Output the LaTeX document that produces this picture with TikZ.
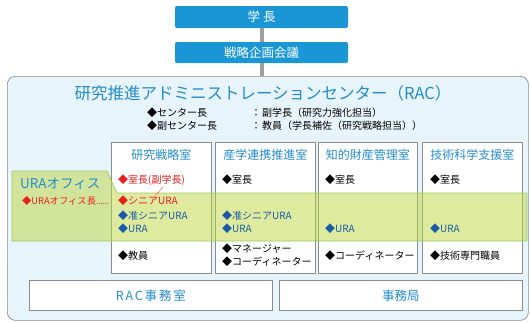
\documentclass[tikz,border=0pt]{standalone}
\usepackage{fontspec}
\setmainfont{Noto Sans CJK JP}
\definecolor{topblue}{RGB}{27,150,212}
\definecolor{headblue}{RGB}{36,140,204}
\definecolor{urablue}{RGB}{25,90,168}
\definecolor{racbg}{RGB}{232,244,251}
\definecolor{redtxt}{RGB}{232,30,30}
\definecolor{greenfill}{RGB}{190,214,60}
\definecolor{greenline}{RGB}{140,195,80}
\definecolor{boxline}{RGB}{140,140,140}
\tikzset{
  topbox/.style={fill=topblue, rounded corners=2pt, minimum width=173pt, inner sep=0pt, text=white, font=\fontsize{12.5}{14}\selectfont},
  deptbox/.style={draw=boxline, fill=white, line width=0.7pt, minimum width=100pt, minimum height=131pt, anchor=north west, inner sep=0pt},
  head/.style={text=headblue, font=\fontsize{12}{14}\selectfont, inner sep=0pt},
  item/.style={anchor=west, font=\fontsize{10}{12}\selectfont, inner sep=0pt},
  reditem/.style={item, text=redtxt},
  blueitem/.style={item, text=urablue},
  botbox/.style={draw=boxline, fill=white, line width=0.7pt, minimum height=30pt, anchor=north west, inner sep=0pt, text=headblue, font=\fontsize{12.5}{14}\selectfont},
  conn/.style={draw=gray!75, line width=4pt}
}
\begin{document}
\begin{tikzpicture}[x=1pt,y=-1pt]
\useasboundingbox (0,0) rectangle (530,322);
% top boxes
\node[topbox, minimum height=22pt] (gakucho) at (261.5,17) {学\hspace{3pt}長};
\node[topbox, minimum height=21pt] (senryaku) at (261.5,52.5) {戦略企画会議};
% RAC box
\node[draw=boxline, fill=racbg, rounded corners=8pt, line width=0.7pt, minimum width=521pt, minimum height=244pt, anchor=north west, inner sep=0pt] (rac) at (7,76) {};
\draw[conn] (gakucho.south) -- (senryaku.north);
\draw[conn] (senryaku.south) -- (senryaku.south |- rac.north);
\node[text=headblue, font=\fontsize{16.5}{19}\selectfont, inner sep=0pt] (title) at (263,93) {研究推進アドミニストレーションセンター（RAC）};
\node[item] (l1a) at (147,113) {◆センター長};
\node[item] (l1b) at (251,113) {：};
\node[item] (l1c) at (262,113) {副学長（研究力強化担当）};
\node[item] (l2a) at (147,126) {◆副センター長};
\node[item] (l2b) at (251,126) {：};
\node[item] (l2c) at (262,126) {教員（学長補佐（研究戦略担当））};
% department boxes
\node[deptbox] (d1) at (111,142) {};
\node[deptbox] (d2) at (215,142) {};
\node[deptbox, minimum width=99pt] (d3) at (318,142) {};
\node[deptbox] (d4) at (422,142) {};
\node[head] (h1) at (d1.north |- 0,155) {研究戦略室};
\node[head] (h2) at (d2.north |- 0,155) {産学連携推進室};
\node[head] (h3) at (d3.north |- 0,155) {知的財産管理室};
\node[head] (h4) at (d4.north |- 0,155) {技術科学支援室};
% URA office band
\path[fill=greenfill, fill opacity=0.5, draw=greenline, draw opacity=0.8, line width=0.7pt]
  (12,171) -- (107,171) -- (117,193) -- (527,193) -- (527,241) -- (12,241) -- cycle;
\node[item, text=headblue, font=\fontsize{13.5}{15}\selectfont] (uraoffice) at (20,184) {URAオフィス};
% column 1
\node[reditem] (c1a) at (118,180) {◆室長(副学長)};
\node[reditem, font=\fontsize{9.3}{11}\selectfont] (urahead) at (22,201) {◆URAオフィス長\raisebox{0.5pt}{\scalebox{0.65}[1]{……}}};
\node[reditem] (c1b) at (118,201) {◆シニアURA};
\draw[redtxt, densely dotted, line width=0.7pt] (163,187) -- (154,197);
\node[blueitem] (c1c) at (118,216) {◆准シニアURA};
\node[blueitem] (c1d) at (118,229) {◆URA};
\node[item] (c1e) at (118,256) {◆教員};
% column 2
\node[item] (c2a) at (222,180) {◆室長};
\node[blueitem] (c2c) at (222,216) {◆准シニアURA};
\node[blueitem] (c2d) at (222,229) {◆URA};
\node[item] (c2e) at (222,249) {◆マネージャー};
\node[item] (c2f) at (222,262) {◆コーディネーター};
% column 3
\node[item] (c3a) at (325,180) {◆室長};
\node[blueitem] (c3d) at (325,229) {◆URA};
\node[item] (c3e) at (325,256) {◆コーディネーター};
% column 4
\node[item] (c4a) at (430,180) {◆室長};
\node[blueitem] (c4d) at (430,229) {◆URA};
\node[item] (c4e) at (430,256) {◆技術専門職員};
% bottom boxes
\node[botbox, minimum width=243pt] (racoffice) at (29,280) {\addfontfeature{LetterSpace=15}RAC事務室};
\node[botbox, minimum width=243pt] (jimukyoku) at (279,280) {事務局};
\end{tikzpicture}
\end{document}
